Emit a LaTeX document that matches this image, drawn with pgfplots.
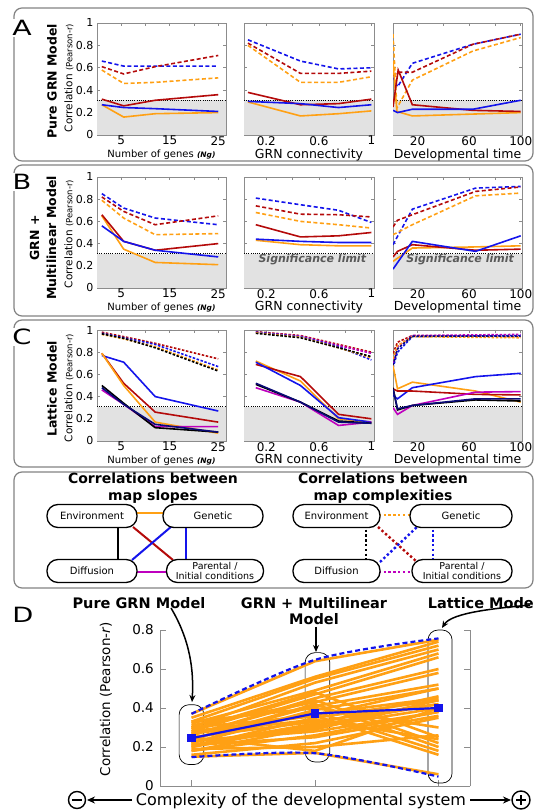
\documentclass[border=0pt]{standalone}
\usepackage{pgfplots}
\pgfplotsset{compat=1.18}
\usepackage{fontspec}
\setmainfont{DejaVu Sans}
\usepackage{graphicx}
\usetikzlibrary{arrows.meta}
\definecolor{cred}{RGB}{180,10,10}
\definecolor{cblue}{RGB}{20,20,235}
\definecolor{corange}{RGB}{255,160,20}
\definecolor{cmag}{RGB}{190,0,190}
\definecolor{cnavy}{RGB}{10,10,120}
\definecolor{axgray}{RGB}{140,140,140}
\definecolor{sigfill}{RGB}{226,226,226}
\definecolor{boxgray}{RGB}{130,130,130}
\newcommand{\fs}[1]{\fontsize{#1}{#1}\selectfont}
\pgfplotsset{
  small/.style={
    scale only axis, width=129pt, height=112pt,
    ymin=0, ymax=1, ytick={0,0.2,0.4,0.6,0.8,1},
    axis line style={axgray, line width=0.8pt},
    tick style={axgray, line width=0.6pt},
    major tick length=3pt, tick align=inside,
    /pgf/number format/assume math mode=true,
    yticklabel style={font=\fs{11}},
    xticklabel style={font=\fs{12}, inner sep=1pt},
    xlabel style={at={(axis description cs:0.5,-0.175)}, anchor=center, inner sep=0pt},
    every axis plot/.append style={line width=1.6pt},
  },
  sd/.style={dash pattern=on 4pt off 2.5pt},
  sdd/.style={dash pattern=on 2.5pt off 1.6pt},
  ol/.style={corange, line width=2.6pt, mark=none},
  col1/.style={small, xmin=0, xmax=26.6, xtick={5,10,15,20,25}, xticklabels={5,,15,,25}},
  col2/.style={small, width=130pt, xmin=0.03, xmax=1.02, xtick={0.2,0.4,0.6,0.8,1}, xticklabels={0.2,,0.6,,1}, yticklabels={}},
  col3/.style={small, xmin=1, xmax=101, xtick={20,40,60,80,100}, xticklabels={20,,60,,100}, yticklabels={}},
}
\newcommand{\sig}[2]{%
  \addplot[draw=none, fill=sigfill] coordinates {(#1,0.31) (#2,0.31)} \closedcycle;
  \addplot[black, line width=0.8pt, dash pattern=on 1pt off 1.2pt] coordinates {(#1,0.31) (#2,0.31)};}
\newcommand{\ngl}{Number of genes {\fontsize{7.5}{8}\selectfont\bfseries\itshape (Ng)}}
\tikzset{cbox/.style={draw, fill=white, line width=1.3pt, rounded corners=11pt, minimum height=23pt, inner sep=1pt, align=center, font=\fs{10}}}
\begin{document}
\begin{tikzpicture}[x=1pt,y=1pt]
\useasboundingbox (0,0) rectangle (534,810);
% panel boxes
\draw[boxgray, line width=1.2pt, rounded corners=8pt] (14,802) rectangle (533,649);
\draw[boxgray, line width=1.2pt, rounded corners=8pt] (14,645) rectangle (533,494);
\draw[boxgray, line width=1.2pt, rounded corners=8pt] (14,490) rectangle (533,343);
\draw[boxgray, line width=1.2pt, rounded corners=8pt] (14,338) rectangle (533,222);
% letters
\node[fill=white, inner sep=1pt, font=\fs{21}] at (22,782) {\scalebox{1.35}[1]{A}};
\node[fill=white, inner sep=1pt, font=\fs{21}] at (22,628) {\scalebox{1.3}[1]{B}};
\node[fill=white, inner sep=1pt, font=\fs{21}] at (22,473) {\scalebox{1.3}[1]{C}};
\node[fill=white, inner sep=1pt, font=\fs{21}] at (23,195) {\scalebox{1.3}[1]{D}};
% row labels
\node[rotate=90, font=\fs{12.5}\bfseries] at (52,729) {Pure GRN Model};
\node[rotate=90, font=\fontsize{12.5}{17}\selectfont\bfseries, align=center] at (43,572) {GRN +\\Multilinear Model};
\node[rotate=90, font=\fs{12.5}\bfseries] at (52,421) {Lattice Model};
\foreach \yy in {732,576,422}{
  \node[rotate=90, font=\fs{10.5}] at (69,\yy) {Correlation {\fontsize{8.5}{9}\selectfont(Pearson-r)}};
}
% ================= ROW A =================
\begin{axis}[col1, at={(97pt,675pt)}, anchor=south west, xlabel={\ngl}, xlabel style={font=\fs{10}}]
\sig{0}{26.6}
\addplot[cblue, sd] coordinates {(1,0.66)(5.5,0.615)(12,0.615)(25,0.615)};
\addplot[cred, sd] coordinates {(1,0.61)(5.5,0.545)(12,0.61)(25,0.71)};
\addplot[corange, sd] coordinates {(1,0.58)(5.5,0.46)(12,0.47)(25,0.51)};
\addplot[cred] coordinates {(1,0.32)(5.5,0.26)(12,0.31)(25,0.36)};
\addplot[corange] coordinates {(1,0.27)(5.5,0.16)(12,0.19)(25,0.20)};
\addplot[cblue] coordinates {(1,0.27)(5.5,0.245)(12,0.235)(25,0.21)};
\end{axis}
\begin{axis}[col2, at={(244pt,675pt)}, anchor=south west, xlabel={GRN connectivity}, xlabel style={font=\fs{12.5}}]
\sig{0.03}{1.02}
\addplot[cblue, sd] coordinates {(0.06,0.85)(0.46,0.66)(0.75,0.59)(1,0.60)};
\addplot[cred, sd] coordinates {(0.06,0.82)(0.46,0.55)(0.75,0.55)(1,0.57)};
\addplot[corange, sd] coordinates {(0.06,0.80)(0.46,0.47)(0.75,0.47)(1,0.52)};
\addplot[cred] coordinates {(0.06,0.38)(0.46,0.27)(0.75,0.28)(1,0.32)};
\addplot[corange] coordinates {(0.06,0.295)(0.46,0.17)(0.75,0.19)(1,0.215)};
\addplot[cblue] coordinates {(0.06,0.30)(0.46,0.28)(0.75,0.245)(1,0.27)};
\end{axis}
\begin{axis}[col3, at={(393pt,675pt)}, anchor=south west, xlabel={Developmental time}, xlabel style={font=\fs{12.5}}]
\sig{1}{101}
\addplot[cblue, sd] coordinates {(1,0.52)(4.5,0.43)(16,0.64)(63,0.81)(100,0.90)};
\addplot[cred, sd] coordinates {(1,0.53)(4.5,0.56)(16,0.56)(63,0.81)(100,0.90)};
\addplot[corange, sd] coordinates {(1,0.90)(4,0.24)(16,0.49)(63,0.75)(100,0.87)};
\addplot[corange] coordinates {(1,0.66)(4,0.21)(16,0.17)(100,0.20)};
\addplot[cred] coordinates {(1,0.25)(5,0.58)(16,0.27)(63,0.22)(100,0.21)};
\addplot[cblue] coordinates {(1,0.22)(4.5,0.20)(16,0.23)(63,0.23)(100,0.31)};
\end{axis}
% ================= ROW B =================
\begin{axis}[col1, at={(97pt,522pt)}, anchor=south west, height=111pt, xlabel={\ngl}, xlabel style={font=\fs{10}}]
\sig{0}{26.6}
\addplot[cblue, sd] coordinates {(1,0.85)(5.5,0.72)(12,0.63)(25,0.57)};
\addplot[cred, sd] coordinates {(1,0.82)(5.5,0.69)(12,0.57)(25,0.65)};
\addplot[corange, sd] coordinates {(1,0.79)(5.5,0.63)(12,0.48)(25,0.49)};
\addplot[corange] coordinates {(1,0.65)(5.5,0.35)(12,0.23)(25,0.21)};
\addplot[cred] coordinates {(1,0.66)(5.5,0.42)(12,0.34)(25,0.40)};
\addplot[cblue] coordinates {(1,0.56)(5.5,0.42)(12,0.34)(25,0.28)};
\end{axis}
\begin{axis}[col2, at={(244pt,522pt)}, anchor=south west, height=111pt, xlabel={GRN connectivity}, xlabel style={font=\fs{12.5}}]
\sig{0.03}{1.02}
\node[font=\fs{11}\bfseries\itshape, text=black!65] at (axis cs:0.55,0.255) {Significance limit};
\addplot[cblue, sd] coordinates {(0.12,0.81)(0.46,0.75)(0.75,0.70)(1,0.59)};
\addplot[cred, sd] coordinates {(0.12,0.74)(0.46,0.665)(0.75,0.66)(1,0.64)};
\addplot[corange, sd] coordinates {(0.12,0.68)(0.46,0.60)(0.75,0.57)(1,0.54)};
\addplot[cred] coordinates {(0.12,0.57)(0.46,0.46)(0.75,0.47)(1,0.50)};
\addplot[corange] coordinates {(0.12,0.43)(0.46,0.39)(0.75,0.38)(1,0.38)};
\addplot[cblue] coordinates {(0.12,0.44)(0.46,0.42)(0.75,0.41)(1,0.41)};
\end{axis}
\begin{axis}[col3, at={(393pt,522pt)}, anchor=south west, height=111pt, xlabel={Developmental time}, xlabel style={font=\fs{12.5}}]
\sig{1}{101}
\node[font=\fs{11}\bfseries\itshape, text=black!65] at (axis cs:53,0.255) {Significance limit};
\addplot[cblue, sd] coordinates {(1,0.39)(16,0.71)(65,0.90)(100,0.915)};
\addplot[cred, sd] coordinates {(1,0.55)(4.5,0.61)(16,0.66)(65,0.87)(100,0.91)};
\addplot[corange, sd] coordinates {(1,0.48)(16,0.57)(65,0.83)(100,0.855)};
\addplot[corange] coordinates {(1,0.24)(16,0.36)(65,0.37)(100,0.38)};
\addplot[cred] coordinates {(1,0.28)(4.5,0.33)(16,0.39)(65,0.34)(100,0.35)};
\addplot[cblue] coordinates {(1,0.17)(16,0.42)(65,0.33)(100,0.47)};
\end{axis}
% ================= ROW C =================
\begin{axis}[col1, at={(97pt,369pt)}, anchor=south west, height=111pt, xlabel={\ngl}, xlabel style={font=\fs{10}}]
\sig{0}{26.6}
\addplot[cred, sdd] coordinates {(1,0.98)(5.5,0.94)(12,0.88)(25,0.74)};
\addplot[cblue, sdd] coordinates {(1,0.97)(5.5,0.93)(12,0.87)(25,0.67)};
\addplot[corange, sdd] coordinates {(1,0.96)(5.5,0.92)(12,0.85)(25,0.64)};
\addplot[black, sdd] coordinates {(1,0.965)(5.5,0.925)(12,0.84)(25,0.63)};
\addplot[cblue] coordinates {(1,0.77)(5.5,0.71)(12,0.40)(25,0.27)};
\addplot[cred] coordinates {(1,0.79)(5.5,0.52)(12,0.26)(25,0.17)};
\addplot[corange] coordinates {(1,0.79)(5.5,0.50)(12,0.17)(25,0.07)};
\addplot[cmag] coordinates {(1,0.46)(5.5,0.33)(12,0.13)(25,0.13)};
\addplot[black] coordinates {(1,0.50)(5.5,0.34)(12,0.12)(25,0.08)};
\addplot[cnavy] coordinates {(1,0.48)(5.5,0.33)(12,0.15)(25,0.08)};
\end{axis}
\begin{axis}[col2, at={(244pt,369pt)}, anchor=south west, height=111pt, xlabel={GRN connectivity}, xlabel style={font=\fs{12.5}}]
\sig{0.03}{1.02}
\addplot[cred, sdd] coordinates {(0.12,0.985)(0.46,0.95)(0.75,0.87)(1,0.80)};
\addplot[cmag, sdd] coordinates {(0.12,0.98)(0.46,0.945)(0.75,0.86)(1,0.79)};
\addplot[cblue, sdd] coordinates {(0.12,0.98)(0.46,0.94)(0.75,0.85)(1,0.73)};
\addplot[corange, sdd] coordinates {(0.12,0.975)(0.46,0.935)(0.75,0.84)(1,0.75)};
\addplot[black, sdd] coordinates {(0.12,0.97)(0.46,0.93)(0.75,0.84)(1,0.76)};
\addplot[corange] coordinates {(0.12,0.72)(0.46,0.54)(0.75,0.20)(1,0.17)};
\addplot[cred] coordinates {(0.12,0.69)(0.46,0.58)(0.75,0.24)(1,0.20)};
\addplot[cblue] coordinates {(0.12,0.71)(0.46,0.50)(0.75,0.21)(1,0.17)};
\addplot[cmag] coordinates {(0.12,0.48)(0.46,0.35)(0.75,0.14)(1,0.17)};
\addplot[black] coordinates {(0.12,0.51)(0.46,0.35)(0.75,0.18)(1,0.16)};
\addplot[cnavy] coordinates {(0.12,0.52)(0.46,0.35)(0.75,0.17)(1,0.16)};
\end{axis}
\begin{axis}[col3, at={(393pt,369pt)}, anchor=south west, height=111pt, xlabel={Developmental time}, xlabel style={font=\fs{12.5}}]
\sig{1}{101}
\addplot[cred, sdd] coordinates {(1,0.79)(4.5,0.89)(16,0.95)(100,0.94)};
\addplot[cmag, sdd] coordinates {(1,0.70)(4.5,0.85)(16,0.95)(100,0.96)};
\addplot[cblue, sdd] coordinates {(1,0.66)(4.5,0.80)(16,0.94)(100,0.95)};
\addplot[corange, sdd] coordinates {(1,0.74)(4.5,0.86)(16,0.94)(100,0.93)};
\addplot[cnavy, sdd] coordinates {(1,0.68)(4.5,0.83)(16,0.945)(100,0.945)};
\addplot[corange] coordinates {(1,0.68)(4.5,0.47)(16,0.53)(65,0.45)(100,0.35)};
\addplot[cblue] coordinates {(1,0.41)(4.5,0.38)(16,0.48)(65,0.58)(100,0.61)};
\addplot[cred] coordinates {(1,0.47)(4.5,0.45)(16,0.45)(65,0.42)(100,0.415)};
\addplot[cmag] coordinates {(1,0.30)(4.5,0.24)(16,0.32)(65,0.44)(100,0.445)};
\addplot[black] coordinates {(1,0.48)(4.5,0.28)(16,0.32)(65,0.37)(100,0.36)};
\addplot[cnavy] coordinates {(1,0.47)(4.5,0.29)(16,0.32)(65,0.38)(100,0.38)};
\end{axis}
% ================= CORRELATION DIAGRAMS =================
\node[font=\fontsize{14}{17}\selectfont\bfseries, align=center] at (153,322) {Correlations between\\map slopes};
\node[font=\fontsize{14}{17}\selectfont\bfseries, align=center] at (383,322) {Correlations between\\map complexities};
\draw[corange, line width=2pt] (130,297) -- (170,297);
\draw[black, line width=2pt] (118,290) -- (118,245);
\draw[cred, line width=2pt] (133,283) -- (173,250);
\draw[cblue, line width=2pt] (132,250) -- (172,284);
\draw[cblue, line width=2pt] (186,290) -- (186,245);
\draw[cmag, line width=2pt] (130,238) -- (172,238);
\begin{scope}[line width=2.4pt, dash pattern=on 2.4pt off 2.4pt]
\draw[corange] (374,295) -- (415,295);
\draw[black] (366,290) -- (366,245);
\draw[cred] (378,283) -- (417,248);
\draw[cblue] (380,248) -- (417,283);
\draw[cblue] (433,290) -- (433,245);
\draw[cmag] (374,238) -- (418,238);
\end{scope}
\node[cbox, minimum width=90pt] at (92,294) {Environment};
\node[cbox, minimum width=100pt] at (213,294) {Genetic};
\node[cbox, minimum width=90pt] at (92,239) {Diffusion};
\node[cbox, minimum width=97pt, font=\fontsize{9.5}{10.5}\selectfont] at (215,239) {Parental /\\Initial conditions};
\node[cbox, minimum width=87pt] at (336.5,294) {Environment};
\node[cbox, minimum width=102pt] at (461,294) {Genetic};
\node[cbox, minimum width=87pt] at (336.5,239) {Diffusion};
\node[cbox, minimum width=100pt, font=\fontsize{9.5}{10.5}\selectfont] at (462,239) {Parental /\\Initial conditions};
% ================= PANEL D =================
\node[rotate=90, font=\fs{13.5}] at (106,111) {Correlation (Pearson-\textit{r})};
\begin{axis}[at={(160pt,24pt)}, anchor=south west, scale only axis, width=310pt, height=156pt,
  xmin=0.745, xmax=3.255, ymin=0, ymax=0.8,
  xtick={1,2,3}, xticklabels={}, ytick={0,0.2,0.4,0.6,0.8},
  axis x line*=bottom, axis y line*=box, xtick pos=lower, ytick pos=both,
  axis line style={-, axgray, line width=1pt},
  tick style={axgray, line width=0.8pt}, major tick length=6pt, tick align=inside,
  /pgf/number format/assume math mode=true,
  yticklabel style={font=\fs{13.5}, xshift=-5pt, inner sep=1pt},
  clip=false]
\draw[black, line width=0.7pt, rounded corners=10pt] (axis cs:0.9,0.11) rectangle (axis cs:1.1,0.417);
\draw[black, line width=0.7pt, rounded corners=10pt] (axis cs:1.92,0.123) rectangle (axis cs:2.12,0.684);
\draw[black, line width=0.7pt, rounded corners=10pt] (axis cs:2.915,0.015) rectangle (axis cs:3.11,0.80);
\addplot[ol] coordinates {(1,0.37)(2,0.64)(3,0.75)};
\addplot[ol] coordinates {(1,0.35)(2,0.56)(3,0.74)};
\addplot[ol] coordinates {(1,0.33)(2,0.55)(3,0.72)};
\addplot[ol] coordinates {(1,0.30)(2,0.53)(3,0.70)};
\addplot[ol] coordinates {(1,0.32)(2,0.49)(3,0.68)};
\addplot[ol] coordinates {(1,0.28)(2,0.47)(3,0.66)};
\addplot[ol] coordinates {(1,0.26)(2,0.45)(3,0.60)};
\addplot[ol] coordinates {(1,0.31)(2,0.43)(3,0.58)};
\addplot[ol] coordinates {(1,0.24)(2,0.41)(3,0.52)};
\addplot[ol] coordinates {(1,0.22)(2,0.39)(3,0.50)};
\addplot[ol] coordinates {(1,0.27)(2,0.37)(3,0.45)};
\addplot[ol] coordinates {(1,0.20)(2,0.35)(3,0.44)};
\addplot[ol] coordinates {(1,0.25)(2,0.33)(3,0.42)};
\addplot[ol] coordinates {(1,0.18)(2,0.30)(3,0.40)};
\addplot[ol] coordinates {(1,0.23)(2,0.28)(3,0.38)};
\addplot[ol] coordinates {(1,0.21)(2,0.25)(3,0.36)};
\addplot[ol] coordinates {(1,0.16)(2,0.22)(3,0.35)};
\addplot[ol] coordinates {(1,0.19)(2,0.20)(3,0.26)};
\addplot[ol] coordinates {(1,0.15)(2,0.17)(3,0.06)};
\addplot[ol] coordinates {(1,0.29)(2,0.48)(3,0.25)};
\addplot[ol] coordinates {(1,0.26)(2,0.44)(3,0.22)};
\addplot[ol] coordinates {(1,0.24)(2,0.42)(3,0.20)};
\addplot[ol] coordinates {(1,0.22)(2,0.38)(3,0.18)};
\addplot[ol] coordinates {(1,0.30)(2,0.36)(3,0.16)};
\addplot[ol] coordinates {(1,0.20)(2,0.31)(3,0.42)};
\addplot[ol] coordinates {(1,0.27)(2,0.34)(3,0.24)};
\addplot[ol] coordinates {(1,0.23)(2,0.29)(3,0.44)};
\addplot[ol] coordinates {(1,0.18)(2,0.26)(3,0.38)};
\addplot[ol] coordinates {(1,0.33)(2,0.40)(3,0.30)};
\addplot[ol] coordinates {(1,0.21)(2,0.32)(3,0.46)};
\addplot[ol] coordinates {(1,0.25)(2,0.18)(3,0.40)};
\addplot[ol] coordinates {(1,0.28)(2,0.36)(3,0.50)};
\addplot[cblue, line width=2.2pt, dash pattern=on 5pt off 3pt, smooth, mark=none] coordinates {(1,0.37)(2,0.647)(3,0.757)};
\addplot[cblue, line width=2.2pt, dash pattern=on 5pt off 3pt, smooth, mark=none] coordinates {(1,0.148)(2,0.168)(3,0.048)};
\addplot[cblue, line width=2.2pt, mark=square*, mark size=3pt] coordinates {(1,0.245)(2,0.372)(3,0.40)};
\end{axis}
\node[font=\fs{14.5}\bfseries] at (139,207) {Pure GRN Model};
\node[font=\fontsize{14.5}{16}\selectfont\bfseries, align=center] at (314,199) {GRN + Multilinear\\Model};
\node[font=\fs{14.5}\bfseries, anchor=east, inner sep=0pt] at (534,207) {Lattice Mode};
\draw[line width=1.5pt, -{Stealth[length=7pt,width=6pt]}] (171,202) .. controls (190,170) and (194,140) .. (192,108);
\draw[line width=1.5pt, -{Stealth[length=7pt,width=6pt]}] (316,183) -- (316,158);
\draw[line width=1.5pt, -{Stealth[length=7pt,width=6pt]}] (530,205) .. controls (500,202) and (452,198) .. (442,182);
% bottom axis caption
\node[font=\fs{16}, inner sep=0.5pt] at (301,8.5) {Complexity of the developmental system};
\draw[line width=1.4pt] (77,10) circle (8.5);
\draw[line width=2pt] (72,10) -- (82,10);
\draw[line width=1.4pt] (521,10) circle (9);
\draw[line width=2pt] (516,10) -- (526,10) (521,5) -- (521,15);
\draw[line width=2pt, -{Stealth[length=8pt,width=7pt]}] (132,10) -- (87,10);
\draw[line width=2pt, -{Stealth[length=8pt,width=7pt]}] (470,10) -- (511,10);
\end{tikzpicture}
\end{document}
